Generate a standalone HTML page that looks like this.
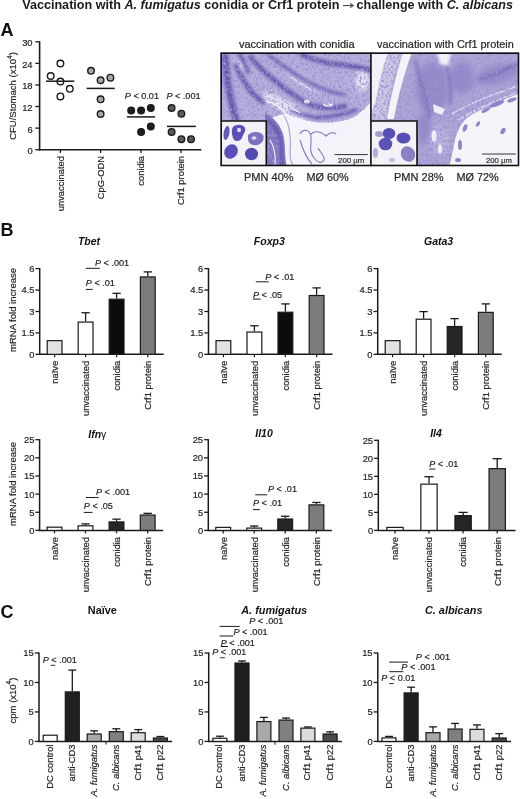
<!DOCTYPE html>
<html><head><meta charset="utf-8"><style>
html,body{margin:0;padding:0;background:#fff;}
svg{display:block;filter:blur(0.3px);}
text{font-family:"Liberation Sans", sans-serif;}
text:not([font-weight="bold"]){stroke:#2a2a2a;stroke-width:0.2px;}
</style></head><body>
<svg width="520" height="799" viewBox="0 0 520 799" fill="#222">
<text x="22.2" y="8.9" font-size="12" font-weight="bold" fill="#1a1a1a" textLength="317.2" lengthAdjust="spacingAndGlyphs">Vaccination with <tspan font-style="italic">A. fumigatus</tspan> conidia or Crf1 protein</text>
<text x="356.6" y="8.9" font-size="12" font-weight="bold" fill="#1a1a1a" textLength="156.4" lengthAdjust="spacingAndGlyphs">challenge with <tspan font-style="italic">C. albicans</tspan></text>
<path d="M343 5.6 L352.5 5.6" stroke="#333" stroke-width="1"/><path d="M350 3.6 L353.6 5.6 L350 7.6" fill="none" stroke="#333" stroke-width="1"/>
<text x="0.50" y="36.10" font-size="18" text-anchor="start" font-weight="bold" fill="#111" >A</text>
<text x="0.50" y="236.30" font-size="18" text-anchor="start" font-weight="bold" fill="#111" >B</text>
<text x="0.50" y="618.00" font-size="18" text-anchor="start" font-weight="bold" fill="#111" >C</text>
<line x1="39.60" y1="41.20" x2="39.60" y2="150.40" stroke="#1a1a1a" stroke-width="1.6"/>
<line x1="38.80" y1="149.70" x2="201.30" y2="149.70" stroke="#1a1a1a" stroke-width="1.6"/>
<line x1="35.30" y1="149.70" x2="39.60" y2="149.70" stroke="#1a1a1a" stroke-width="1.3"/>
<text x="32.60" y="154.10" font-size="9.4" text-anchor="end" >0</text>
<line x1="35.30" y1="128.12" x2="39.60" y2="128.12" stroke="#1a1a1a" stroke-width="1.3"/>
<text x="32.60" y="132.52" font-size="9.4" text-anchor="end" >6</text>
<line x1="35.30" y1="106.54" x2="39.60" y2="106.54" stroke="#1a1a1a" stroke-width="1.3"/>
<text x="32.60" y="110.94" font-size="9.4" text-anchor="end" >12</text>
<line x1="35.30" y1="84.96" x2="39.60" y2="84.96" stroke="#1a1a1a" stroke-width="1.3"/>
<text x="32.60" y="89.36" font-size="9.4" text-anchor="end" >18</text>
<line x1="35.30" y1="63.38" x2="39.60" y2="63.38" stroke="#1a1a1a" stroke-width="1.3"/>
<text x="32.60" y="67.78" font-size="9.4" text-anchor="end" >24</text>
<line x1="35.30" y1="41.80" x2="39.60" y2="41.80" stroke="#1a1a1a" stroke-width="1.3"/>
<text x="32.60" y="46.20" font-size="9.4" text-anchor="end" >30</text>
<line x1="60.40" y1="149.70" x2="60.40" y2="152.90" stroke="#1a1a1a" stroke-width="1.3"/>
<line x1="100.60" y1="149.70" x2="100.60" y2="152.90" stroke="#1a1a1a" stroke-width="1.3"/>
<line x1="141.00" y1="149.70" x2="141.00" y2="152.90" stroke="#1a1a1a" stroke-width="1.3"/>
<line x1="181.00" y1="149.70" x2="181.00" y2="152.90" stroke="#1a1a1a" stroke-width="1.3"/>
<text x="16.3" y="96" font-size="9.5" text-anchor="middle" transform="rotate(-90 16.3 96)" fill="#222">CFU/Stomach (x10<tspan font-size="6.6" dy="-4.6">4</tspan><tspan dy="4.6">)</tspan></text>
<circle cx="60.4" cy="63.5" r="3.3" fill="#ffffff" stroke="#1a1a1a" stroke-width="1.4"/>
<circle cx="50.7" cy="76" r="3.3" fill="#ffffff" stroke="#1a1a1a" stroke-width="1.4"/>
<circle cx="60.4" cy="81.5" r="3.3" fill="#ffffff" stroke="#1a1a1a" stroke-width="1.4"/>
<circle cx="69.8" cy="88.8" r="3.3" fill="#ffffff" stroke="#1a1a1a" stroke-width="1.4"/>
<circle cx="60.4" cy="96.4" r="3.3" fill="#ffffff" stroke="#1a1a1a" stroke-width="1.4"/>
<circle cx="91" cy="70.8" r="3.3" fill="#a8a8a8" stroke="#1a1a1a" stroke-width="1.4"/>
<circle cx="100.6" cy="80.3" r="3.3" fill="#a8a8a8" stroke="#1a1a1a" stroke-width="1.4"/>
<circle cx="110.4" cy="77.7" r="3.3" fill="#a8a8a8" stroke="#1a1a1a" stroke-width="1.4"/>
<circle cx="100.6" cy="99.3" r="3.3" fill="#a8a8a8" stroke="#1a1a1a" stroke-width="1.4"/>
<circle cx="100.6" cy="114" r="3.3" fill="#a8a8a8" stroke="#1a1a1a" stroke-width="1.4"/>
<circle cx="131.2" cy="110.6" r="3.3" fill="#1e1e1e" stroke="#1a1a1a" stroke-width="1.4"/>
<circle cx="141.1" cy="110.6" r="3.3" fill="#1e1e1e" stroke="#1a1a1a" stroke-width="1.4"/>
<circle cx="150.8" cy="108" r="3.3" fill="#1e1e1e" stroke="#1a1a1a" stroke-width="1.4"/>
<circle cx="150.8" cy="126.4" r="3.3" fill="#1e1e1e" stroke="#1a1a1a" stroke-width="1.4"/>
<circle cx="141.1" cy="131.9" r="3.3" fill="#1e1e1e" stroke="#1a1a1a" stroke-width="1.4"/>
<circle cx="171.6" cy="108" r="3.3" fill="#5a5a5a" stroke="#1a1a1a" stroke-width="1.4"/>
<circle cx="181.4" cy="113.7" r="3.3" fill="#5a5a5a" stroke="#1a1a1a" stroke-width="1.4"/>
<circle cx="171.6" cy="131.9" r="3.3" fill="#5a5a5a" stroke="#1a1a1a" stroke-width="1.4"/>
<circle cx="181.4" cy="139.2" r="3.3" fill="#5a5a5a" stroke="#1a1a1a" stroke-width="1.4"/>
<circle cx="191" cy="139.2" r="3.3" fill="#5a5a5a" stroke="#1a1a1a" stroke-width="1.4"/>
<line x1="46.00" y1="81.20" x2="74.30" y2="81.20" stroke="#1a1a1a" stroke-width="1.5"/>
<line x1="86.70" y1="88.40" x2="114.80" y2="88.40" stroke="#1a1a1a" stroke-width="1.5"/>
<line x1="126.90" y1="116.90" x2="155.10" y2="116.90" stroke="#1a1a1a" stroke-width="1.5"/>
<line x1="167.00" y1="126.40" x2="195.80" y2="126.40" stroke="#1a1a1a" stroke-width="1.5"/>
<text x="124.80" y="98.70" font-size="9.1" text-anchor="start" ><tspan font-style="italic">P</tspan> &lt; 0.01</text>
<text x="166.40" y="98.70" font-size="9.1" text-anchor="start" ><tspan font-style="italic">P</tspan> &lt; .001</text>
<text x="63.78" y="156.00" font-size="9.4" text-anchor="end" transform="rotate(-90 63.78 156.00)" fill="#222">unvaccinated</text>
<text x="103.98" y="156.00" font-size="9.4" text-anchor="end" transform="rotate(-90 103.98 156.00)" fill="#222">CpG-ODN</text>
<text x="144.38" y="156.00" font-size="9.4" text-anchor="end" transform="rotate(-90 144.38 156.00)" fill="#222">conidia</text>
<text x="184.38" y="156.00" font-size="9.4" text-anchor="end" transform="rotate(-90 184.38 156.00)" fill="#222">Crf1 protein</text>
<defs><filter id="bl1" x="-20%" y="-20%" width="140%" height="140%"><feGaussianBlur stdDeviation="1.4"/></filter><filter id="bl2" x="-20%" y="-20%" width="140%" height="140%"><feGaussianBlur stdDeviation="0.7"/></filter><filter id="bl3" x="-20%" y="-20%" width="140%" height="140%"><feGaussianBlur stdDeviation="2.5"/></filter><filter id="tex" x="0" y="0" width="100%" height="100%" filterUnits="userSpaceOnUse"><feTurbulence type="fractalNoise" baseFrequency="0.5 0.35" numOctaves="3" seed="7" result="n"/><feColorMatrix in="n" type="matrix" values="0 0 0 0 0.34  0 0 0 0 0.28  0 0 0 0 0.63  0 0 0 -3.4 1.85"/><feComposite in2="SourceGraphic" operator="in"/></filter><filter id="tex2" x="0" y="0" width="100%" height="100%" filterUnits="userSpaceOnUse"><feTurbulence type="fractalNoise" baseFrequency="0.5" numOctaves="2" seed="11" result="n"/><feColorMatrix in="n" type="matrix" values="0 0 0 0 0.95  0 0 0 0 0.94  0 0 0 0 0.98  0 0 0 3.0 -1.55"/><feComposite in2="SourceGraphic" operator="in"/></filter><clipPath id="c1"><rect x="220.5" y="52.5" width="151" height="113.5"/></clipPath><clipPath id="c2"><rect x="371.5" y="52.5" width="147.5" height="113.5"/></clipPath><clipPath id="t1"><path d="M220 52 L372 52 L372 100 C368 106 362 111 356 116 C347 121 335 123 318 122.5 C305 121 295 117 288 114 C282 114 276 116 272 118 L265 118 L265 167 L220 167 Z"/></clipPath><clipPath id="t2"><path d="M371 52 L520 52 L520 93 C508 98 496 103 485 108.5 C476 112 470 115 466 119 C460 125 457 132 455 140 C453 150 451 160 449 167 L371 167 Z"/></clipPath></defs>
<g clip-path="url(#c1)">
<rect x="220" y="52" width="152" height="115" fill="#f4f3f9"/>
<g clip-path="url(#t1)">
<rect x="220" y="52" width="152" height="115" fill="#b7b0dc"/>
<g filter="url(#bl3)" fill="#bdb6de"><ellipse cx="300" cy="80" rx="16" ry="8" transform="rotate(30 300 80)"/><ellipse cx="275" cy="100" rx="12" ry="5" transform="rotate(30 275 100)"/></g>
<ellipse cx="362" cy="80" rx="7" ry="12" fill="#e4e1f1" filter="url(#bl1)"/>
<path d="M262 92 C272 92 285 98 296 106 C305 112 312 116 318 118 L300 123 C290 118 280 110 270 104 L262 102 Z" fill="#dcd8ee" filter="url(#bl1)"/>
<ellipse cx="241" cy="66" rx="6" ry="5" fill="#dcd8ee" filter="url(#bl1)"/>
<g filter="url(#bl1)" fill="none" stroke="#5a4ca5" stroke-linecap="round" opacity="0.9"><path d="M225.5 57 C226 70 228 88 231.4 100.7 C233 108 234 114 236 119" stroke-width="7"/><path d="M236 66 C240 75 246 86 253.8 94.7 C257 98 260 100 263 102" stroke-width="5"/><path d="M250.8 57 C255 63 262 71 277.6 82.8 C285 89 292 94 304.4 102 C312 106 322 108 331.3 108 C337 108 341 107 345 106" stroke-width="5"/><path d="M268.7 55 C275 60 282 65 286.6 68 C293 72 298 76 304.4 79.8 C312 84 318 87 322.3 88.7 C330 92 338 94 345 95" stroke-width="3"/><path d="M302 55 C312 59 322 62 330 63.5 C343 65 355 66 370 70" stroke-width="5"/><path d="M292 110 C300 114 308 117 316 117.5 C326 117.5 340 116 356 110" stroke-width="4"/><path d="M240 55 C244 62 246 66 248 72" stroke-width="4"/></g>
<g filter="url(#bl2)" fill="#ebe8f5"><ellipse cx="307" cy="101.5" rx="3" ry="2"/><ellipse cx="328" cy="105" rx="5" ry="1.8"/></g>
<g filter="url(#bl2)" fill="none" stroke="#e8e6f4" stroke-linecap="round"><path d="M272 100 C280 104 290 110 300 112" stroke-width="1.2"/><path d="M290 76 C298 82 306 88 316 92" stroke-width="1.2"/></g>
<rect x="220" y="52" width="152" height="115" filter="url(#tex)" fill="#000"/>
</g>
<clipPath id="fold1"><path d="M265 113 C271 116 279 122 283 134 C286 146 284 158 287 167 L265 167 Z"/></clipPath>
<g clip-path="url(#fold1)"><rect x="264" y="112" width="26" height="56" fill="#8074bf"/><rect x="264" y="112" width="26" height="56" filter="url(#tex)" fill="#000"/></g>
<path d="M267 120 C274 124 279 132 281 142 C282 152 281 160 283 167" fill="none" stroke="#6253aa" stroke-width="3" filter="url(#bl1)"/>
<path d="M270 140 C274 146 276 154 275 166" fill="none" stroke="#e9e6f3" stroke-width="1.2" filter="url(#bl2)"/>
<path d="M284 116 C290 124 291 140 290 152 C290 160 292 164 294 167" fill="none" stroke="#9a90cb" stroke-width="1.0" filter="url(#bl2)"/>
<path d="M266 101 C274 103 282 108 288 116" fill="none" stroke="#f2f0f8" stroke-width="1.6" filter="url(#bl2)"/>
<path d="M266 96 C276 98 290 106 300 113" fill="none" stroke="#eeecf6" stroke-width="1.2" filter="url(#bl2)"/>
<g fill="none" stroke="#8376be" stroke-width="1.1" filter="url(#bl2)"><path d="M300 134 C303 128 310 130 311 136 C312 144 308 150 314 158 C318 163 322 164 324 160 C325 156 320 152 318 148"/><path d="M311 134 C316 130 322 132 326 136 C330 132 334 132 336 134"/><path d="M300 140 C303 150 306 158 312 164"/></g>
</g>
<rect x="220.5" y="120.8" width="45.8" height="45.2" fill="#f3f1f6"/>
<g filter="url(#bl2)"><ellipse cx="226.5" cy="133" rx="2.8" ry="7" fill="#6258b8" transform="rotate(10 226.5 133)"/><path d="M233 127 C236 124 243 124 245 128 C246 132 243 134 242 138 C240 142 234 142 233 138 C232 134 231 130 233 127 Z" fill="#5a50b6"/><ellipse cx="239" cy="130" rx="2" ry="2.2" fill="#e0dcf0"/><path d="M248 135 C252 131 260 131 263 135 C265 139 262 144 257 145 C252 146 248 143 248 139 Z" fill="#7d72c2"/><ellipse cx="254" cy="138" rx="2.5" ry="1.8" fill="#dcd8ee"/><ellipse cx="231" cy="151.5" rx="6.5" ry="7.5" fill="#5a50b8" transform="rotate(35 231 151.5)"/><ellipse cx="251.5" cy="154" rx="6.5" ry="6.2" fill="#5248b2"/></g>
<g clip-path="url(#c2)">
<rect x="371" y="52" width="149" height="115" fill="#f5f4fa"/>
<g clip-path="url(#t2)">
<rect x="371" y="52" width="149" height="115" fill="#ada5d5"/>
<path d="M371 52 L403 52 C395 72 389 95 386 120 L371 120 Z" fill="#cdc8e6" filter="url(#bl1)"/>
<g filter="url(#bl3)" fill="#8d82c4" opacity="0.8"><ellipse cx="432" cy="88" rx="16" ry="26"/><ellipse cx="462" cy="78" rx="12" ry="16"/><ellipse cx="498" cy="74" rx="22" ry="9" transform="rotate(-15 498 74)"/><ellipse cx="424" cy="128" rx="7" ry="16"/></g>
<g filter="url(#bl3)" fill="#bcb5de"><ellipse cx="440" cy="140" rx="10" ry="14"/></g>
<g filter="url(#bl1)" fill="none" stroke="#7466b6" stroke-width="3" opacity="0.8"><path d="M415 60 C420 80 425 100 430 118"/><path d="M445 62 C450 75 452 90 450 105"/><path d="M478 80 C490 76 505 70 519 64"/></g>
<g filter="url(#bl2)" fill="none" stroke="#dcd8ee" stroke-width="1.6"><path d="M452 114 C472 102 494 94 520 85"/><path d="M458 120 C478 108 500 99 520 91"/></g>
<rect x="371" y="52" width="149" height="115" filter="url(#tex)" fill="#000"/>
<path d="M371 52 L388 52 C383 65 379 82 376 100 L371 114 Z" fill="#f2f0f8" filter="url(#bl2)"/>
<path d="M403 52 L412 52 C405 72 398 95 394 119 L387 119 C391 95 397 72 403 52 Z" fill="#f4f3f9" filter="url(#bl2)"/>
<path d="M437 52 L451 52 L448 66 L440 64 Z" fill="#f3f2f9" filter="url(#bl1)"/>
<path d="M433 104 L445 109 L442 115 L434 112 Z" fill="#eeedf6" filter="url(#bl2)"/>
<g filter="url(#bl2)" fill="#efedf7"><ellipse cx="434" cy="136" rx="2.5" ry="6"/><ellipse cx="440" cy="149" rx="2" ry="4.5"/></g>
</g>
<g fill="#8f85c6" filter="url(#bl2)"><ellipse cx="497" cy="104" rx="8" ry="2.2" transform="rotate(-22 497 104)"/><ellipse cx="486" cy="110" rx="5" ry="1.8" transform="rotate(-30 486 110)"/><ellipse cx="512" cy="100" rx="5" ry="1.8" transform="rotate(-20 512 100)"/><ellipse cx="503" cy="131" rx="2.2" ry="3.5" transform="rotate(30 503 131)"/><ellipse cx="478" cy="124" rx="1.6" ry="3" transform="rotate(30 478 124)"/><ellipse cx="465" cy="128" rx="2" ry="4" transform="rotate(20 465 128)"/><ellipse cx="460" cy="145" rx="2" ry="5"/><ellipse cx="458" cy="160" rx="3" ry="2"/></g>
</g>
<rect x="371.5" y="120.8" width="45.5" height="45.2" fill="#f4f2f7"/>
<g filter="url(#bl2)"><ellipse cx="389" cy="133.5" rx="6.3" ry="5.5" fill="#5850b6"/><ellipse cx="385.5" cy="144" rx="6.8" ry="6.3" fill="#5a52b8"/><ellipse cx="403.5" cy="138" rx="7" ry="5.5" fill="#5850b6"/><ellipse cx="408" cy="154" rx="7" ry="8" fill="#8a80c6" transform="rotate(-30 408 154)"/><ellipse cx="379" cy="134" rx="4" ry="3" fill="#a39bd0"/><ellipse cx="375.5" cy="153" rx="2.5" ry="5" fill="#b3acd9"/><ellipse cx="392" cy="160" rx="3" ry="2.5" fill="#c8c2e3"/></g>
<rect x="221.2" y="53.2" width="297.3" height="112.3" fill="none" stroke="#111" stroke-width="1.6"/>
<line x1="370.90" y1="52.50" x2="370.90" y2="166.30" stroke="#111" stroke-width="1.6"/>
<path d="M221 121 L266.3 121 L266.3 166" fill="none" stroke="#111" stroke-width="1.6"/>
<path d="M371.5 121 L417 121 L417 166" fill="none" stroke="#111" stroke-width="1.6"/>
<line x1="334.60" y1="154.60" x2="367.80" y2="154.60" stroke="#333" stroke-width="1.0"/>
<text x="351.20" y="162.80" font-size="7.8" text-anchor="middle" fill="#333" >200 µm</text>
<line x1="482.00" y1="154.00" x2="515.70" y2="154.00" stroke="#333" stroke-width="1.0"/>
<text x="499.00" y="162.80" font-size="7.8" text-anchor="middle" fill="#333" >200 µm</text>
<text x="296.80" y="48.20" font-size="10" text-anchor="middle" textLength="115.6" lengthAdjust="spacingAndGlyphs" >vaccination with conidia</text>
<text x="445.40" y="48.20" font-size="10" text-anchor="middle" textLength="136.8" lengthAdjust="spacingAndGlyphs" >vaccination with Crf1 protein</text>
<text x="244.00" y="180.70" font-size="10.4" text-anchor="start" textLength="49.6" lengthAdjust="spacingAndGlyphs" >PMN 40%</text>
<text x="306.50" y="180.70" font-size="10.4" text-anchor="start" textLength="42.2" lengthAdjust="spacingAndGlyphs" >MØ 60%</text>
<text x="394.00" y="180.70" font-size="10.4" text-anchor="start" textLength="49.6" lengthAdjust="spacingAndGlyphs" >PMN 28%</text>
<text x="456.50" y="180.70" font-size="10.4" text-anchor="start" textLength="42.2" lengthAdjust="spacingAndGlyphs" >MØ 72%</text>
<line x1="39.70" y1="268.00" x2="39.70" y2="354.95" stroke="#1a1a1a" stroke-width="1.5"/>
<line x1="39.00" y1="354.35" x2="163.70" y2="354.35" stroke="#1a1a1a" stroke-width="1.5"/>
<line x1="35.50" y1="354.35" x2="39.70" y2="354.35" stroke="#1a1a1a" stroke-width="1.3"/>
<text x="34.50" y="357.75" font-size="9.4" text-anchor="end" >0</text>
<line x1="35.50" y1="332.91" x2="39.70" y2="332.91" stroke="#1a1a1a" stroke-width="1.3"/>
<text x="34.50" y="336.31" font-size="9.4" text-anchor="end" >1.5</text>
<line x1="35.50" y1="311.48" x2="39.70" y2="311.48" stroke="#1a1a1a" stroke-width="1.3"/>
<text x="34.50" y="314.88" font-size="9.4" text-anchor="end" >3</text>
<line x1="35.50" y1="290.04" x2="39.70" y2="290.04" stroke="#1a1a1a" stroke-width="1.3"/>
<text x="34.50" y="293.44" font-size="9.4" text-anchor="end" >4.5</text>
<line x1="35.50" y1="268.60" x2="39.70" y2="268.60" stroke="#1a1a1a" stroke-width="1.3"/>
<text x="34.50" y="272.00" font-size="9.4" text-anchor="end" >6</text>
<rect x="47.20" y="340.66" width="14.80" height="13.69" fill="#e2e2e2" stroke="#1a1a1a" stroke-width="1.2"/>
<line x1="54.60" y1="354.35" x2="54.60" y2="357.35" stroke="#1a1a1a" stroke-width="1.2"/>
<line x1="85.60" y1="312.76" x2="85.60" y2="321.48" stroke="#1a1a1a" stroke-width="1.3"/>
<line x1="81.44" y1="312.76" x2="89.76" y2="312.76" stroke="#1a1a1a" stroke-width="1.3"/>
<rect x="78.20" y="322.08" width="14.80" height="32.27" fill="#ffffff" stroke="#1a1a1a" stroke-width="1.2"/>
<line x1="85.60" y1="354.35" x2="85.60" y2="357.35" stroke="#1a1a1a" stroke-width="1.2"/>
<line x1="116.60" y1="293.32" x2="116.60" y2="298.61" stroke="#1a1a1a" stroke-width="1.3"/>
<line x1="112.44" y1="293.32" x2="120.76" y2="293.32" stroke="#1a1a1a" stroke-width="1.3"/>
<rect x="109.20" y="299.21" width="14.80" height="55.14" fill="#0c0c0c" stroke="#1a1a1a" stroke-width="1.2"/>
<line x1="116.60" y1="354.35" x2="116.60" y2="357.35" stroke="#1a1a1a" stroke-width="1.2"/>
<line x1="147.80" y1="271.89" x2="147.80" y2="276.32" stroke="#1a1a1a" stroke-width="1.3"/>
<line x1="143.64" y1="271.89" x2="151.96" y2="271.89" stroke="#1a1a1a" stroke-width="1.3"/>
<rect x="140.40" y="276.92" width="14.80" height="77.43" fill="#7c7c7c" stroke="#1a1a1a" stroke-width="1.2"/>
<line x1="147.80" y1="354.35" x2="147.80" y2="357.35" stroke="#1a1a1a" stroke-width="1.2"/>
<text x="89.00" y="244.60" font-size="10.5" text-anchor="middle" font-weight="bold" font-style="italic" fill="#111" >Tbet</text>
<text x="57.98" y="360.80" font-size="9.4" text-anchor="end" transform="rotate(-90 57.98 360.80)" fill="#222">naïve</text>
<text x="88.98" y="360.80" font-size="9.4" text-anchor="end" transform="rotate(-90 88.98 360.80)" fill="#222">unvaccinated</text>
<text x="119.98" y="360.80" font-size="9.4" text-anchor="end" transform="rotate(-90 119.98 360.80)" fill="#222">conidia</text>
<text x="151.18" y="360.80" font-size="9.4" text-anchor="end" transform="rotate(-90 151.18 360.80)" fill="#222">Crf1 protein</text>
<line x1="208.50" y1="268.00" x2="208.50" y2="354.95" stroke="#1a1a1a" stroke-width="1.5"/>
<line x1="207.80" y1="354.35" x2="332.50" y2="354.35" stroke="#1a1a1a" stroke-width="1.5"/>
<line x1="204.30" y1="354.35" x2="208.50" y2="354.35" stroke="#1a1a1a" stroke-width="1.3"/>
<text x="203.30" y="357.75" font-size="9.4" text-anchor="end" >0</text>
<line x1="204.30" y1="332.91" x2="208.50" y2="332.91" stroke="#1a1a1a" stroke-width="1.3"/>
<text x="203.30" y="336.31" font-size="9.4" text-anchor="end" >1.5</text>
<line x1="204.30" y1="311.48" x2="208.50" y2="311.48" stroke="#1a1a1a" stroke-width="1.3"/>
<text x="203.30" y="314.88" font-size="9.4" text-anchor="end" >3</text>
<line x1="204.30" y1="290.04" x2="208.50" y2="290.04" stroke="#1a1a1a" stroke-width="1.3"/>
<text x="203.30" y="293.44" font-size="9.4" text-anchor="end" >4.5</text>
<line x1="204.30" y1="268.60" x2="208.50" y2="268.60" stroke="#1a1a1a" stroke-width="1.3"/>
<text x="203.30" y="272.00" font-size="9.4" text-anchor="end" >6</text>
<rect x="216.00" y="340.66" width="14.80" height="13.69" fill="#e2e2e2" stroke="#1a1a1a" stroke-width="1.2"/>
<line x1="223.40" y1="354.35" x2="223.40" y2="357.35" stroke="#1a1a1a" stroke-width="1.2"/>
<line x1="254.40" y1="325.77" x2="254.40" y2="331.48" stroke="#1a1a1a" stroke-width="1.3"/>
<line x1="250.24" y1="325.77" x2="258.56" y2="325.77" stroke="#1a1a1a" stroke-width="1.3"/>
<rect x="247.00" y="332.08" width="14.80" height="22.27" fill="#ffffff" stroke="#1a1a1a" stroke-width="1.2"/>
<line x1="254.40" y1="354.35" x2="254.40" y2="357.35" stroke="#1a1a1a" stroke-width="1.2"/>
<line x1="285.40" y1="303.90" x2="285.40" y2="311.62" stroke="#1a1a1a" stroke-width="1.3"/>
<line x1="281.24" y1="303.90" x2="289.56" y2="303.90" stroke="#1a1a1a" stroke-width="1.3"/>
<rect x="278.00" y="312.22" width="14.80" height="42.13" fill="#0c0c0c" stroke="#1a1a1a" stroke-width="1.2"/>
<line x1="285.40" y1="354.35" x2="285.40" y2="357.35" stroke="#1a1a1a" stroke-width="1.2"/>
<line x1="316.60" y1="287.89" x2="316.60" y2="294.90" stroke="#1a1a1a" stroke-width="1.3"/>
<line x1="312.44" y1="287.89" x2="320.76" y2="287.89" stroke="#1a1a1a" stroke-width="1.3"/>
<rect x="309.20" y="295.50" width="14.80" height="58.85" fill="#7c7c7c" stroke="#1a1a1a" stroke-width="1.2"/>
<line x1="316.60" y1="354.35" x2="316.60" y2="357.35" stroke="#1a1a1a" stroke-width="1.2"/>
<text x="269.30" y="244.60" font-size="10.5" text-anchor="middle" font-weight="bold" font-style="italic" fill="#111" >Foxp3</text>
<text x="226.78" y="360.80" font-size="9.4" text-anchor="end" transform="rotate(-90 226.78 360.80)" fill="#222">naïve</text>
<text x="257.78" y="360.80" font-size="9.4" text-anchor="end" transform="rotate(-90 257.78 360.80)" fill="#222">unvaccinated</text>
<text x="288.78" y="360.80" font-size="9.4" text-anchor="end" transform="rotate(-90 288.78 360.80)" fill="#222">conidia</text>
<text x="319.98" y="360.80" font-size="9.4" text-anchor="end" transform="rotate(-90 319.98 360.80)" fill="#222">Crf1 protein</text>
<line x1="377.70" y1="268.00" x2="377.70" y2="354.95" stroke="#1a1a1a" stroke-width="1.5"/>
<line x1="377.00" y1="354.35" x2="501.70" y2="354.35" stroke="#1a1a1a" stroke-width="1.5"/>
<line x1="373.50" y1="354.35" x2="377.70" y2="354.35" stroke="#1a1a1a" stroke-width="1.3"/>
<text x="372.50" y="357.75" font-size="9.4" text-anchor="end" >0</text>
<line x1="373.50" y1="332.91" x2="377.70" y2="332.91" stroke="#1a1a1a" stroke-width="1.3"/>
<text x="372.50" y="336.31" font-size="9.4" text-anchor="end" >1.5</text>
<line x1="373.50" y1="311.48" x2="377.70" y2="311.48" stroke="#1a1a1a" stroke-width="1.3"/>
<text x="372.50" y="314.88" font-size="9.4" text-anchor="end" >3</text>
<line x1="373.50" y1="290.04" x2="377.70" y2="290.04" stroke="#1a1a1a" stroke-width="1.3"/>
<text x="372.50" y="293.44" font-size="9.4" text-anchor="end" >4.5</text>
<line x1="373.50" y1="268.60" x2="377.70" y2="268.60" stroke="#1a1a1a" stroke-width="1.3"/>
<text x="372.50" y="272.00" font-size="9.4" text-anchor="end" >6</text>
<rect x="385.20" y="340.66" width="14.80" height="13.69" fill="#e2e2e2" stroke="#1a1a1a" stroke-width="1.2"/>
<line x1="392.60" y1="354.35" x2="392.60" y2="357.35" stroke="#1a1a1a" stroke-width="1.2"/>
<line x1="423.60" y1="311.62" x2="423.60" y2="318.62" stroke="#1a1a1a" stroke-width="1.3"/>
<line x1="419.44" y1="311.62" x2="427.76" y2="311.62" stroke="#1a1a1a" stroke-width="1.3"/>
<rect x="416.20" y="319.22" width="14.80" height="35.13" fill="#ffffff" stroke="#1a1a1a" stroke-width="1.2"/>
<line x1="423.60" y1="354.35" x2="423.60" y2="357.35" stroke="#1a1a1a" stroke-width="1.2"/>
<line x1="454.60" y1="318.62" x2="454.60" y2="325.91" stroke="#1a1a1a" stroke-width="1.3"/>
<line x1="450.44" y1="318.62" x2="458.76" y2="318.62" stroke="#1a1a1a" stroke-width="1.3"/>
<rect x="447.20" y="326.51" width="14.80" height="27.84" fill="#262626" stroke="#1a1a1a" stroke-width="1.2"/>
<line x1="454.60" y1="354.35" x2="454.60" y2="357.35" stroke="#1a1a1a" stroke-width="1.2"/>
<line x1="485.80" y1="303.90" x2="485.80" y2="311.76" stroke="#1a1a1a" stroke-width="1.3"/>
<line x1="481.64" y1="303.90" x2="489.96" y2="303.90" stroke="#1a1a1a" stroke-width="1.3"/>
<rect x="478.40" y="312.36" width="14.80" height="41.99" fill="#7c7c7c" stroke="#1a1a1a" stroke-width="1.2"/>
<line x1="485.80" y1="354.35" x2="485.80" y2="357.35" stroke="#1a1a1a" stroke-width="1.2"/>
<text x="438.60" y="244.60" font-size="10.5" text-anchor="middle" font-weight="bold" font-style="italic" fill="#111" >Gata3</text>
<text x="395.98" y="360.80" font-size="9.4" text-anchor="end" transform="rotate(-90 395.98 360.80)" fill="#222">naïve</text>
<text x="426.98" y="360.80" font-size="9.4" text-anchor="end" transform="rotate(-90 426.98 360.80)" fill="#222">unvaccinated</text>
<text x="457.98" y="360.80" font-size="9.4" text-anchor="end" transform="rotate(-90 457.98 360.80)" fill="#222">conidia</text>
<text x="489.18" y="360.80" font-size="9.4" text-anchor="end" transform="rotate(-90 489.18 360.80)" fill="#222">Crf1 protein</text>
<line x1="39.60" y1="439.10" x2="39.60" y2="531.00" stroke="#1a1a1a" stroke-width="1.5"/>
<line x1="38.90" y1="530.40" x2="163.10" y2="530.40" stroke="#1a1a1a" stroke-width="1.5"/>
<line x1="35.40" y1="530.40" x2="39.60" y2="530.40" stroke="#1a1a1a" stroke-width="1.3"/>
<text x="34.40" y="533.80" font-size="9.4" text-anchor="end" >0</text>
<line x1="35.40" y1="512.26" x2="39.60" y2="512.26" stroke="#1a1a1a" stroke-width="1.3"/>
<text x="34.40" y="515.66" font-size="9.4" text-anchor="end" >5</text>
<line x1="35.40" y1="494.12" x2="39.60" y2="494.12" stroke="#1a1a1a" stroke-width="1.3"/>
<text x="34.40" y="497.52" font-size="9.4" text-anchor="end" >10</text>
<line x1="35.40" y1="475.98" x2="39.60" y2="475.98" stroke="#1a1a1a" stroke-width="1.3"/>
<text x="34.40" y="479.38" font-size="9.4" text-anchor="end" >15</text>
<line x1="35.40" y1="457.84" x2="39.60" y2="457.84" stroke="#1a1a1a" stroke-width="1.3"/>
<text x="34.40" y="461.24" font-size="9.4" text-anchor="end" >20</text>
<line x1="35.40" y1="439.70" x2="39.60" y2="439.70" stroke="#1a1a1a" stroke-width="1.3"/>
<text x="34.40" y="443.10" font-size="9.4" text-anchor="end" >25</text>
<rect x="47.10" y="527.19" width="14.80" height="3.21" fill="#ffffff" stroke="#1a1a1a" stroke-width="1.2"/>
<line x1="54.50" y1="530.40" x2="54.50" y2="533.40" stroke="#1a1a1a" stroke-width="1.2"/>
<line x1="85.50" y1="523.87" x2="85.50" y2="525.21" stroke="#1a1a1a" stroke-width="1.3"/>
<line x1="81.34" y1="523.87" x2="89.66" y2="523.87" stroke="#1a1a1a" stroke-width="1.3"/>
<rect x="78.10" y="525.81" width="14.80" height="4.59" fill="#ffffff" stroke="#1a1a1a" stroke-width="1.2"/>
<line x1="85.50" y1="530.40" x2="85.50" y2="533.40" stroke="#1a1a1a" stroke-width="1.2"/>
<line x1="116.50" y1="519.15" x2="116.50" y2="521.33" stroke="#1a1a1a" stroke-width="1.3"/>
<line x1="112.34" y1="519.15" x2="120.66" y2="519.15" stroke="#1a1a1a" stroke-width="1.3"/>
<rect x="109.10" y="521.93" width="14.80" height="8.47" fill="#262626" stroke="#1a1a1a" stroke-width="1.2"/>
<line x1="116.50" y1="530.40" x2="116.50" y2="533.40" stroke="#1a1a1a" stroke-width="1.2"/>
<line x1="147.70" y1="513.35" x2="147.70" y2="514.44" stroke="#1a1a1a" stroke-width="1.3"/>
<line x1="143.54" y1="513.35" x2="151.86" y2="513.35" stroke="#1a1a1a" stroke-width="1.3"/>
<rect x="140.30" y="515.04" width="14.80" height="15.36" fill="#7c7c7c" stroke="#1a1a1a" stroke-width="1.2"/>
<line x1="147.70" y1="530.40" x2="147.70" y2="533.40" stroke="#1a1a1a" stroke-width="1.2"/>
<text x="57.88" y="537.00" font-size="9.4" text-anchor="end" transform="rotate(-90 57.88 537.00)" fill="#222">naïve</text>
<text x="88.88" y="537.00" font-size="9.4" text-anchor="end" transform="rotate(-90 88.88 537.00)" fill="#222">unvaccinated</text>
<text x="119.88" y="537.00" font-size="9.4" text-anchor="end" transform="rotate(-90 119.88 537.00)" fill="#222">conidia</text>
<text x="151.08" y="537.00" font-size="9.4" text-anchor="end" transform="rotate(-90 151.08 537.00)" fill="#222">Crf1 protein</text>
<line x1="208.30" y1="439.10" x2="208.30" y2="531.00" stroke="#1a1a1a" stroke-width="1.5"/>
<line x1="207.60" y1="530.40" x2="331.80" y2="530.40" stroke="#1a1a1a" stroke-width="1.5"/>
<line x1="204.10" y1="530.40" x2="208.30" y2="530.40" stroke="#1a1a1a" stroke-width="1.3"/>
<text x="203.10" y="533.80" font-size="9.4" text-anchor="end" >0</text>
<line x1="204.10" y1="512.26" x2="208.30" y2="512.26" stroke="#1a1a1a" stroke-width="1.3"/>
<text x="203.10" y="515.66" font-size="9.4" text-anchor="end" >5</text>
<line x1="204.10" y1="494.12" x2="208.30" y2="494.12" stroke="#1a1a1a" stroke-width="1.3"/>
<text x="203.10" y="497.52" font-size="9.4" text-anchor="end" >10</text>
<line x1="204.10" y1="475.98" x2="208.30" y2="475.98" stroke="#1a1a1a" stroke-width="1.3"/>
<text x="203.10" y="479.38" font-size="9.4" text-anchor="end" >15</text>
<line x1="204.10" y1="457.84" x2="208.30" y2="457.84" stroke="#1a1a1a" stroke-width="1.3"/>
<text x="203.10" y="461.24" font-size="9.4" text-anchor="end" >20</text>
<line x1="204.10" y1="439.70" x2="208.30" y2="439.70" stroke="#1a1a1a" stroke-width="1.3"/>
<text x="203.10" y="443.10" font-size="9.4" text-anchor="end" >25</text>
<rect x="215.80" y="527.37" width="14.80" height="3.03" fill="#ffffff" stroke="#1a1a1a" stroke-width="1.2"/>
<line x1="223.20" y1="530.40" x2="223.20" y2="533.40" stroke="#1a1a1a" stroke-width="1.2"/>
<line x1="254.20" y1="526.05" x2="254.20" y2="527.50" stroke="#1a1a1a" stroke-width="1.3"/>
<line x1="250.04" y1="526.05" x2="258.36" y2="526.05" stroke="#1a1a1a" stroke-width="1.3"/>
<rect x="246.80" y="528.10" width="14.80" height="2.30" fill="#ffffff" stroke="#1a1a1a" stroke-width="1.2"/>
<line x1="254.20" y1="530.40" x2="254.20" y2="533.40" stroke="#1a1a1a" stroke-width="1.2"/>
<line x1="285.20" y1="516.25" x2="285.20" y2="518.43" stroke="#1a1a1a" stroke-width="1.3"/>
<line x1="281.04" y1="516.25" x2="289.36" y2="516.25" stroke="#1a1a1a" stroke-width="1.3"/>
<rect x="277.80" y="519.03" width="14.80" height="11.37" fill="#262626" stroke="#1a1a1a" stroke-width="1.2"/>
<line x1="285.20" y1="530.40" x2="285.20" y2="533.40" stroke="#1a1a1a" stroke-width="1.2"/>
<line x1="316.40" y1="502.46" x2="316.40" y2="504.28" stroke="#1a1a1a" stroke-width="1.3"/>
<line x1="312.24" y1="502.46" x2="320.56" y2="502.46" stroke="#1a1a1a" stroke-width="1.3"/>
<rect x="309.00" y="504.88" width="14.80" height="25.52" fill="#7c7c7c" stroke="#1a1a1a" stroke-width="1.2"/>
<line x1="316.40" y1="530.40" x2="316.40" y2="533.40" stroke="#1a1a1a" stroke-width="1.2"/>
<text x="226.58" y="537.00" font-size="9.4" text-anchor="end" transform="rotate(-90 226.58 537.00)" fill="#222">naïve</text>
<text x="257.58" y="537.00" font-size="9.4" text-anchor="end" transform="rotate(-90 257.58 537.00)" fill="#222">unvaccinated</text>
<text x="288.58" y="537.00" font-size="9.4" text-anchor="end" transform="rotate(-90 288.58 537.00)" fill="#222">conidia</text>
<text x="319.78" y="537.00" font-size="9.4" text-anchor="end" transform="rotate(-90 319.78 537.00)" fill="#222">Crf1 protein</text>
<line x1="378.30" y1="439.70" x2="378.30" y2="531.00" stroke="#1a1a1a" stroke-width="1.5"/>
<line x1="377.60" y1="530.40" x2="515.60" y2="530.40" stroke="#1a1a1a" stroke-width="1.5"/>
<line x1="374.10" y1="530.40" x2="378.30" y2="530.40" stroke="#1a1a1a" stroke-width="1.3"/>
<text x="373.10" y="533.80" font-size="9.4" text-anchor="end" >0</text>
<line x1="374.10" y1="512.38" x2="378.30" y2="512.38" stroke="#1a1a1a" stroke-width="1.3"/>
<text x="373.10" y="515.78" font-size="9.4" text-anchor="end" >5</text>
<line x1="374.10" y1="494.36" x2="378.30" y2="494.36" stroke="#1a1a1a" stroke-width="1.3"/>
<text x="373.10" y="497.76" font-size="9.4" text-anchor="end" >10</text>
<line x1="374.10" y1="476.34" x2="378.30" y2="476.34" stroke="#1a1a1a" stroke-width="1.3"/>
<text x="373.10" y="479.74" font-size="9.4" text-anchor="end" >15</text>
<line x1="374.10" y1="458.32" x2="378.30" y2="458.32" stroke="#1a1a1a" stroke-width="1.3"/>
<text x="373.10" y="461.72" font-size="9.4" text-anchor="end" >20</text>
<line x1="374.10" y1="440.30" x2="378.30" y2="440.30" stroke="#1a1a1a" stroke-width="1.3"/>
<text x="373.10" y="443.70" font-size="9.4" text-anchor="end" >25</text>
<rect x="386.85" y="527.40" width="16.30" height="3.00" fill="#ffffff" stroke="#1a1a1a" stroke-width="1.2"/>
<line x1="395.00" y1="530.40" x2="395.00" y2="533.40" stroke="#1a1a1a" stroke-width="1.2"/>
<line x1="429.00" y1="476.70" x2="429.00" y2="483.55" stroke="#1a1a1a" stroke-width="1.3"/>
<line x1="424.45" y1="476.70" x2="433.55" y2="476.70" stroke="#1a1a1a" stroke-width="1.3"/>
<rect x="420.85" y="484.15" width="16.30" height="46.25" fill="#ffffff" stroke="#1a1a1a" stroke-width="1.2"/>
<line x1="429.00" y1="530.40" x2="429.00" y2="533.40" stroke="#1a1a1a" stroke-width="1.2"/>
<line x1="463.10" y1="512.38" x2="463.10" y2="515.05" stroke="#1a1a1a" stroke-width="1.3"/>
<line x1="458.55" y1="512.38" x2="467.65" y2="512.38" stroke="#1a1a1a" stroke-width="1.3"/>
<rect x="454.95" y="515.65" width="16.30" height="14.75" fill="#262626" stroke="#1a1a1a" stroke-width="1.2"/>
<line x1="463.10" y1="530.40" x2="463.10" y2="533.40" stroke="#1a1a1a" stroke-width="1.2"/>
<line x1="497.20" y1="458.68" x2="497.20" y2="468.05" stroke="#1a1a1a" stroke-width="1.3"/>
<line x1="492.65" y1="458.68" x2="501.75" y2="458.68" stroke="#1a1a1a" stroke-width="1.3"/>
<rect x="489.05" y="468.65" width="16.30" height="61.75" fill="#7c7c7c" stroke="#1a1a1a" stroke-width="1.2"/>
<line x1="497.20" y1="530.40" x2="497.20" y2="533.40" stroke="#1a1a1a" stroke-width="1.2"/>
<text x="398.38" y="537.00" font-size="9.4" text-anchor="end" transform="rotate(-90 398.38 537.00)" fill="#222">naïve</text>
<text x="432.38" y="537.00" font-size="9.4" text-anchor="end" transform="rotate(-90 432.38 537.00)" fill="#222">unvaccinated</text>
<text x="466.48" y="537.00" font-size="9.4" text-anchor="end" transform="rotate(-90 466.48 537.00)" fill="#222">conidia</text>
<text x="500.58" y="537.00" font-size="9.4" text-anchor="end" transform="rotate(-90 500.58 537.00)" fill="#222">Crf1 protein</text>
<text x="97.3" y="437.8" font-size="10.5" text-anchor="middle" font-weight="bold" font-style="italic" fill="#111">Ifn<tspan font-weight="normal" font-style="normal">γ</tspan></text>
<text x="264.00" y="437.30" font-size="10.5" text-anchor="middle" font-weight="bold" font-style="italic" fill="#111" >Il10</text>
<text x="436.00" y="437.30" font-size="10.5" text-anchor="middle" font-weight="bold" font-style="italic" fill="#111" >Il4</text>
<text x="16.2" y="310" font-size="9.5" text-anchor="middle" transform="rotate(-90 16.2 310)">mRNA fold increase</text>
<text x="16.2" y="484" font-size="9.5" text-anchor="middle" transform="rotate(-90 16.2 484)">mRNA fold increase</text>
<line x1="85.80" y1="268.30" x2="99.80" y2="268.30" stroke="#1a1a1a" stroke-width="1.0"/>
<text x="95.00" y="265.80" font-size="9.1"><tspan font-style="italic">P</tspan> &lt; .001</text>
<line x1="85.80" y1="289.40" x2="92.70" y2="289.40" stroke="#1a1a1a" stroke-width="1.0"/>
<text x="85.80" y="286.20" font-size="9.1"><tspan font-style="italic">P</tspan> &lt; .01</text>
<line x1="255.80" y1="281.80" x2="268.60" y2="281.80" stroke="#1a1a1a" stroke-width="1.0"/>
<text x="265.20" y="280.30" font-size="9.1"><tspan font-style="italic">P</tspan> &lt; .01</text>
<line x1="253.00" y1="299.10" x2="260.70" y2="299.10" stroke="#1a1a1a" stroke-width="1.0"/>
<text x="253.00" y="297.60" font-size="9.1"><tspan font-style="italic">P</tspan> &lt; .05</text>
<line x1="86.00" y1="497.50" x2="98.70" y2="497.50" stroke="#1a1a1a" stroke-width="1.0"/>
<text x="96.00" y="495.40" font-size="9.1"><tspan font-style="italic">P</tspan> &lt; .001</text>
<line x1="83.80" y1="512.40" x2="92.50" y2="512.40" stroke="#1a1a1a" stroke-width="1.0"/>
<text x="83.80" y="509.40" font-size="9.1"><tspan font-style="italic">P</tspan> &lt; .05</text>
<line x1="255.20" y1="494.80" x2="267.30" y2="494.80" stroke="#1a1a1a" stroke-width="1.0"/>
<text x="267.90" y="492.10" font-size="9.1"><tspan font-style="italic">P</tspan> &lt; .01</text>
<line x1="253.00" y1="509.60" x2="259.80" y2="509.60" stroke="#1a1a1a" stroke-width="1.0"/>
<text x="253.00" y="506.30" font-size="9.1"><tspan font-style="italic">P</tspan> &lt; .01</text>
<line x1="429.20" y1="469.00" x2="435.40" y2="469.00" stroke="#1a1a1a" stroke-width="1.0"/>
<text x="429.20" y="466.50" font-size="9.1"><tspan font-style="italic">P</tspan> &lt; .01</text>
<line x1="39.00" y1="652.40" x2="39.00" y2="742.00" stroke="#1a1a1a" stroke-width="1.5"/>
<line x1="38.30" y1="741.40" x2="172.20" y2="741.40" stroke="#1a1a1a" stroke-width="1.5"/>
<line x1="34.80" y1="741.40" x2="39.00" y2="741.40" stroke="#1a1a1a" stroke-width="1.3"/>
<text x="33.80" y="744.80" font-size="9.4" text-anchor="end" >0</text>
<line x1="34.80" y1="711.93" x2="39.00" y2="711.93" stroke="#1a1a1a" stroke-width="1.3"/>
<text x="33.80" y="715.33" font-size="9.4" text-anchor="end" >5</text>
<line x1="34.80" y1="682.47" x2="39.00" y2="682.47" stroke="#1a1a1a" stroke-width="1.3"/>
<text x="33.80" y="685.87" font-size="9.4" text-anchor="end" >10</text>
<line x1="34.80" y1="653.00" x2="39.00" y2="653.00" stroke="#1a1a1a" stroke-width="1.3"/>
<text x="33.80" y="656.40" font-size="9.4" text-anchor="end" >15</text>
<rect x="43.20" y="735.22" width="14.00" height="6.18" fill="#ffffff" stroke="#1a1a1a" stroke-width="1.2"/>
<line x1="72.30" y1="670.09" x2="72.30" y2="691.31" stroke="#1a1a1a" stroke-width="1.3"/>
<line x1="68.35" y1="670.09" x2="76.25" y2="670.09" stroke="#1a1a1a" stroke-width="1.3"/>
<rect x="65.30" y="691.91" width="14.00" height="49.49" fill="#202020" stroke="#1a1a1a" stroke-width="1.2"/>
<line x1="94.20" y1="730.85" x2="94.20" y2="733.39" stroke="#1a1a1a" stroke-width="1.3"/>
<line x1="90.25" y1="730.85" x2="98.15" y2="730.85" stroke="#1a1a1a" stroke-width="1.3"/>
<rect x="87.20" y="733.99" width="14.00" height="7.41" fill="#a9a9a9" stroke="#1a1a1a" stroke-width="1.2"/>
<line x1="116.30" y1="728.79" x2="116.30" y2="731.09" stroke="#1a1a1a" stroke-width="1.3"/>
<line x1="112.35" y1="728.79" x2="120.25" y2="728.79" stroke="#1a1a1a" stroke-width="1.3"/>
<rect x="109.30" y="731.69" width="14.00" height="9.71" fill="#7f7f7f" stroke="#1a1a1a" stroke-width="1.2"/>
<line x1="138.20" y1="729.61" x2="138.20" y2="732.09" stroke="#1a1a1a" stroke-width="1.3"/>
<line x1="134.25" y1="729.61" x2="142.15" y2="729.61" stroke="#1a1a1a" stroke-width="1.3"/>
<rect x="131.20" y="732.69" width="14.00" height="8.71" fill="#dcdcdc" stroke="#1a1a1a" stroke-width="1.2"/>
<line x1="160.40" y1="736.51" x2="160.40" y2="737.39" stroke="#1a1a1a" stroke-width="1.3"/>
<line x1="156.45" y1="736.51" x2="164.35" y2="736.51" stroke="#1a1a1a" stroke-width="1.3"/>
<rect x="153.40" y="737.99" width="14.00" height="3.41" fill="#4a4a4a" stroke="#1a1a1a" stroke-width="1.2"/>
<text x="102.40" y="614.20" font-size="10.9" text-anchor="middle" font-weight="bold" fill="#111" >Naïve</text>
<text x="52.78" y="744.50" font-size="9.4" text-anchor="end" transform="rotate(-90 52.78 744.50)" fill="#222">DC control</text>
<text x="74.88" y="744.50" font-size="9.4" text-anchor="end" transform="rotate(-90 74.88 744.50)" fill="#222">anti-CD3</text>
<text x="96.78" y="744.50" font-size="9.4" text-anchor="end" transform="rotate(-90 96.78 744.50)" fill="#222"><tspan font-style="italic">A. fumigatus</tspan></text>
<text x="118.88" y="744.50" font-size="9.4" text-anchor="end" transform="rotate(-90 118.88 744.50)" fill="#222"><tspan font-style="italic">C. albicans</tspan></text>
<text x="140.78" y="744.50" font-size="9.4" text-anchor="end" transform="rotate(-90 140.78 744.50)" fill="#222">Crf1  p41</text>
<text x="162.98" y="744.50" font-size="9.4" text-anchor="end" transform="rotate(-90 162.98 744.50)" fill="#222">Crf1  p22</text>
<line x1="208.70" y1="652.40" x2="208.70" y2="742.00" stroke="#1a1a1a" stroke-width="1.5"/>
<line x1="208.00" y1="741.40" x2="341.90" y2="741.40" stroke="#1a1a1a" stroke-width="1.5"/>
<line x1="204.50" y1="741.40" x2="208.70" y2="741.40" stroke="#1a1a1a" stroke-width="1.3"/>
<text x="203.50" y="744.80" font-size="9.4" text-anchor="end" >0</text>
<line x1="204.50" y1="711.93" x2="208.70" y2="711.93" stroke="#1a1a1a" stroke-width="1.3"/>
<text x="203.50" y="715.33" font-size="9.4" text-anchor="end" >5</text>
<line x1="204.50" y1="682.47" x2="208.70" y2="682.47" stroke="#1a1a1a" stroke-width="1.3"/>
<text x="203.50" y="685.87" font-size="9.4" text-anchor="end" >10</text>
<line x1="204.50" y1="653.00" x2="208.70" y2="653.00" stroke="#1a1a1a" stroke-width="1.3"/>
<text x="203.50" y="656.40" font-size="9.4" text-anchor="end" >15</text>
<line x1="219.90" y1="736.21" x2="219.90" y2="737.69" stroke="#1a1a1a" stroke-width="1.3"/>
<line x1="215.95" y1="736.21" x2="223.85" y2="736.21" stroke="#1a1a1a" stroke-width="1.3"/>
<rect x="212.90" y="738.29" width="14.00" height="3.11" fill="#ffffff" stroke="#1a1a1a" stroke-width="1.2"/>
<line x1="242.00" y1="660.96" x2="242.00" y2="662.43" stroke="#1a1a1a" stroke-width="1.3"/>
<line x1="238.05" y1="660.96" x2="245.95" y2="660.96" stroke="#1a1a1a" stroke-width="1.3"/>
<rect x="235.00" y="663.03" width="14.00" height="78.37" fill="#202020" stroke="#1a1a1a" stroke-width="1.2"/>
<line x1="263.90" y1="717.41" x2="263.90" y2="720.95" stroke="#1a1a1a" stroke-width="1.3"/>
<line x1="259.95" y1="717.41" x2="267.85" y2="717.41" stroke="#1a1a1a" stroke-width="1.3"/>
<rect x="256.90" y="721.55" width="14.00" height="19.85" fill="#a9a9a9" stroke="#1a1a1a" stroke-width="1.2"/>
<line x1="286.00" y1="718.06" x2="286.00" y2="719.48" stroke="#1a1a1a" stroke-width="1.3"/>
<line x1="282.05" y1="718.06" x2="289.95" y2="718.06" stroke="#1a1a1a" stroke-width="1.3"/>
<rect x="279.00" y="720.08" width="14.00" height="21.32" fill="#7f7f7f" stroke="#1a1a1a" stroke-width="1.2"/>
<line x1="307.90" y1="726.96" x2="307.90" y2="727.55" stroke="#1a1a1a" stroke-width="1.3"/>
<line x1="303.95" y1="726.96" x2="311.85" y2="726.96" stroke="#1a1a1a" stroke-width="1.3"/>
<rect x="300.90" y="728.15" width="14.00" height="13.25" fill="#dcdcdc" stroke="#1a1a1a" stroke-width="1.2"/>
<line x1="330.10" y1="731.85" x2="330.10" y2="733.39" stroke="#1a1a1a" stroke-width="1.3"/>
<line x1="326.15" y1="731.85" x2="334.05" y2="731.85" stroke="#1a1a1a" stroke-width="1.3"/>
<rect x="323.10" y="733.99" width="14.00" height="7.41" fill="#4a4a4a" stroke="#1a1a1a" stroke-width="1.2"/>
<text x="274.20" y="614.20" font-size="10.9" text-anchor="middle" font-weight="bold" fill="#111" ><tspan font-style="italic">A. fumigatus</tspan></text>
<text x="222.48" y="744.50" font-size="9.4" text-anchor="end" transform="rotate(-90 222.48 744.50)" fill="#222">DC control</text>
<text x="244.58" y="744.50" font-size="9.4" text-anchor="end" transform="rotate(-90 244.58 744.50)" fill="#222">anti-CD3</text>
<text x="266.48" y="744.50" font-size="9.4" text-anchor="end" transform="rotate(-90 266.48 744.50)" fill="#222"><tspan font-style="italic">A. fumigatus</tspan></text>
<text x="288.58" y="744.50" font-size="9.4" text-anchor="end" transform="rotate(-90 288.58 744.50)" fill="#222"><tspan font-style="italic">C. albicans</tspan></text>
<text x="310.48" y="744.50" font-size="9.4" text-anchor="end" transform="rotate(-90 310.48 744.50)" fill="#222">Crf1  p41</text>
<text x="332.68" y="744.50" font-size="9.4" text-anchor="end" transform="rotate(-90 332.68 744.50)" fill="#222">Crf1  p22</text>
<line x1="377.80" y1="652.40" x2="377.80" y2="742.00" stroke="#1a1a1a" stroke-width="1.5"/>
<line x1="377.10" y1="741.40" x2="511.00" y2="741.40" stroke="#1a1a1a" stroke-width="1.5"/>
<line x1="373.60" y1="741.40" x2="377.80" y2="741.40" stroke="#1a1a1a" stroke-width="1.3"/>
<text x="372.60" y="744.80" font-size="9.4" text-anchor="end" >0</text>
<line x1="373.60" y1="711.93" x2="377.80" y2="711.93" stroke="#1a1a1a" stroke-width="1.3"/>
<text x="372.60" y="715.33" font-size="9.4" text-anchor="end" >5</text>
<line x1="373.60" y1="682.47" x2="377.80" y2="682.47" stroke="#1a1a1a" stroke-width="1.3"/>
<text x="372.60" y="685.87" font-size="9.4" text-anchor="end" >10</text>
<line x1="373.60" y1="653.00" x2="377.80" y2="653.00" stroke="#1a1a1a" stroke-width="1.3"/>
<text x="372.60" y="656.40" font-size="9.4" text-anchor="end" >15</text>
<line x1="389.00" y1="736.39" x2="389.00" y2="737.27" stroke="#1a1a1a" stroke-width="1.3"/>
<line x1="385.05" y1="736.39" x2="392.95" y2="736.39" stroke="#1a1a1a" stroke-width="1.3"/>
<rect x="382.00" y="737.87" width="14.00" height="3.53" fill="#ffffff" stroke="#1a1a1a" stroke-width="1.2"/>
<line x1="411.10" y1="687.18" x2="411.10" y2="692.31" stroke="#1a1a1a" stroke-width="1.3"/>
<line x1="407.15" y1="687.18" x2="415.05" y2="687.18" stroke="#1a1a1a" stroke-width="1.3"/>
<rect x="404.10" y="692.91" width="14.00" height="48.49" fill="#202020" stroke="#1a1a1a" stroke-width="1.2"/>
<line x1="433.00" y1="726.84" x2="433.00" y2="732.09" stroke="#1a1a1a" stroke-width="1.3"/>
<line x1="429.05" y1="726.84" x2="436.95" y2="726.84" stroke="#1a1a1a" stroke-width="1.3"/>
<rect x="426.00" y="732.69" width="14.00" height="8.71" fill="#a9a9a9" stroke="#1a1a1a" stroke-width="1.2"/>
<line x1="455.10" y1="723.43" x2="455.10" y2="728.43" stroke="#1a1a1a" stroke-width="1.3"/>
<line x1="451.15" y1="723.43" x2="459.05" y2="723.43" stroke="#1a1a1a" stroke-width="1.3"/>
<rect x="448.10" y="729.03" width="14.00" height="12.37" fill="#7f7f7f" stroke="#1a1a1a" stroke-width="1.2"/>
<line x1="477.00" y1="724.90" x2="477.00" y2="728.73" stroke="#1a1a1a" stroke-width="1.3"/>
<line x1="473.05" y1="724.90" x2="480.95" y2="724.90" stroke="#1a1a1a" stroke-width="1.3"/>
<rect x="470.00" y="729.33" width="14.00" height="12.07" fill="#dcdcdc" stroke="#1a1a1a" stroke-width="1.2"/>
<line x1="499.20" y1="733.62" x2="499.20" y2="737.39" stroke="#1a1a1a" stroke-width="1.3"/>
<line x1="495.25" y1="733.62" x2="503.15" y2="733.62" stroke="#1a1a1a" stroke-width="1.3"/>
<rect x="492.20" y="737.99" width="14.00" height="3.41" fill="#4a4a4a" stroke="#1a1a1a" stroke-width="1.2"/>
<text x="453.70" y="614.20" font-size="10.9" text-anchor="middle" font-weight="bold" fill="#111" ><tspan font-style="italic">C. albicans</tspan></text>
<text x="391.58" y="744.50" font-size="9.4" text-anchor="end" transform="rotate(-90 391.58 744.50)" fill="#222">DC control</text>
<text x="413.68" y="744.50" font-size="9.4" text-anchor="end" transform="rotate(-90 413.68 744.50)" fill="#222">anti-CD3</text>
<text x="435.58" y="744.50" font-size="9.4" text-anchor="end" transform="rotate(-90 435.58 744.50)" fill="#222"><tspan font-style="italic">A. fumigatus</tspan></text>
<text x="457.68" y="744.50" font-size="9.4" text-anchor="end" transform="rotate(-90 457.68 744.50)" fill="#222"><tspan font-style="italic">C. albicans</tspan></text>
<text x="479.58" y="744.50" font-size="9.4" text-anchor="end" transform="rotate(-90 479.58 744.50)" fill="#222">Crf1  p41</text>
<text x="501.78" y="744.50" font-size="9.4" text-anchor="end" transform="rotate(-90 501.78 744.50)" fill="#222">Crf1  p22</text>
<text x="15.5" y="700.5" font-size="9.5" text-anchor="middle" transform="rotate(-90 15.5 700.5)">cpm (x10<tspan font-size="6.6" dy="-4.6">4</tspan><tspan dy="4.6">)</tspan></text>
<text x="42.70" y="663.00" font-size="9.1"><tspan font-style="italic">P</tspan> &lt; .001</text>
<line x1="50.70" y1="665.30" x2="55.30" y2="665.30" stroke="#1a1a1a" stroke-width="0.9"/>
<line x1="219.60" y1="626.40" x2="239.70" y2="626.40" stroke="#1a1a1a" stroke-width="1.0"/>
<text x="249.20" y="624.30" font-size="9.1"><tspan font-style="italic">P</tspan> &lt; .001</text>
<line x1="219.60" y1="636.00" x2="233.40" y2="636.00" stroke="#1a1a1a" stroke-width="1.0"/>
<text x="233.40" y="635.00" font-size="9.1"><tspan font-style="italic">P</tspan> &lt; .001</text>
<line x1="220.70" y1="646.50" x2="228.00" y2="646.50" stroke="#1a1a1a" stroke-width="1.0"/>
<text x="220.70" y="645.50" font-size="9.1"><tspan font-style="italic">P</tspan> &lt; .001</text>
<text x="212.20" y="655.40" font-size="9.1"><tspan font-style="italic">P</tspan> &lt; .001</text>
<line x1="220.20" y1="657.70" x2="224.80" y2="657.70" stroke="#1a1a1a" stroke-width="0.9"/>
<line x1="389.20" y1="662.10" x2="408.00" y2="662.10" stroke="#1a1a1a" stroke-width="1.0"/>
<text x="415.80" y="660.20" font-size="9.1"><tspan font-style="italic">P</tspan> &lt; .001</text>
<line x1="389.20" y1="671.70" x2="403.30" y2="671.70" stroke="#1a1a1a" stroke-width="1.0"/>
<text x="401.30" y="670.40" font-size="9.1"><tspan font-style="italic">P</tspan> &lt; .001</text>
<text x="381.20" y="681.30" font-size="9.1"><tspan font-style="italic">P</tspan> &lt; 0.01</text>
<line x1="389.20" y1="683.60" x2="393.80" y2="683.60" stroke="#1a1a1a" stroke-width="0.9"/>
<line x1="106.00" y1="741.50" x2="106.00" y2="744.50" stroke="#1a1a1a" stroke-width="1.0"/>
<line x1="275.00" y1="741.80" x2="275.00" y2="744.80" stroke="#1a1a1a" stroke-width="1.0"/>
</svg>
</body></html>
